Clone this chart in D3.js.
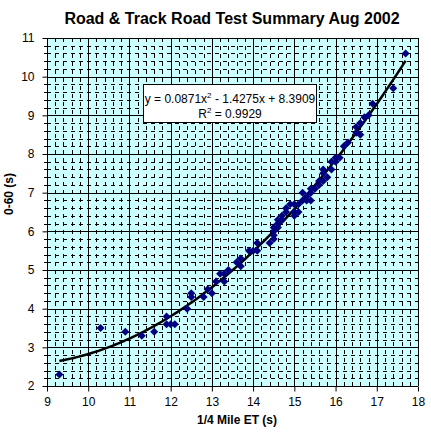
<!DOCTYPE html>
<html>
<head>
<meta charset="utf-8">
<script src="https://cdn.jsdelivr.net/npm/d3@7"></script>
<style>
  body { margin: 0; background: #fff; }
  text { font-family: Arial, "Liberation Sans", sans-serif; }
</style>
</head>
<body>
<script>
// road test data: quarter mile ET vs 0-60 time
var etTimes = [9.3, 10.3, 10.9, 11.3, 11.6, 11.9, 11.9, 12.0, 12.1, 12.4, 12.5, 12.5, 12.8, 12.9, 13.0,
    13.1, 13.2, 13.3, 13.3, 13.4, 13.6, 13.7, 13.7, 13.9, 14.0, 14.1, 14.1, 14.4, 14.5, 14.5,
    14.5, 14.5, 14.6, 14.6, 14.6, 14.7, 14.7, 14.8, 14.8, 14.9, 15.0, 15.0, 15.0, 15.1, 15.1,
    15.2, 15.2, 15.3, 15.3, 15.4, 15.4, 15.4, 15.5, 15.6, 15.6, 15.7, 15.7, 15.7, 15.8, 15.9,
    15.9, 16.0, 16.0, 16.1, 16.2, 16.3, 16.5, 16.5, 16.6, 16.6, 16.7, 16.8, 16.9, 17.4, 17.7];
var zeroSixty = [2.3, 3.5, 3.4, 3.3, 3.4, 3.8, 3.6, 3.6, 3.6, 4.0, 4.3, 4.4, 4.3, 4.5, 4.4,
    4.7, 4.9, 4.9, 4.7, 5.0, 5.2, 5.3, 5.1, 5.5, 5.5, 5.7, 5.5, 5.7, 5.8, 5.9,
    6.0, 6.1, 6.1, 6.2, 6.3, 6.3, 6.4, 6.5, 6.6, 6.7, 6.7, 6.4, 6.5, 6.5, 6.7,
    6.8, 7.0, 6.9, 6.8, 6.8, 7.0, 7.1, 7.1, 7.2, 7.3, 7.3, 7.5, 7.6, 7.4, 7.6,
    7.8, 7.9, 7.8, 7.9, 8.2, 8.3, 8.7, 8.55, 8.8, 8.5, 8.95, 9.0, 9.3, 9.7, 10.6];

// polynomial trendline printed on the chart
var trendCoef = [0.0871, -1.4275, 8.3909];
var trendRange = [9.3, 17.7];

var xTicks = [9, 10, 11, 12, 13, 14, 15, 16, 17, 18];
var yTicks = [2, 3, 4, 5, 6, 7, 8, 9, 10, 11];

var w = 431, h = 437;
var svg = d3.select("body").append("svg")
    .attr("width", w)
    .attr("height", h);

var x = d3.scaleLinear().domain([9, 18]).range([47, 418]);
var y = d3.scaleLinear().domain([2, 11]).range([386, 38]);

// plot background
svg.append("rect")
    .attr("x", x(9)).attr("y", y(11))
    .attr("width", x(18) - x(9)).attr("height", y(2) - y(11))
    .style("fill", "#CCFFFF");

// minor gridlines every 0.2
var xMinor = d3.range(9.2, 18, 0.2).filter(function(d){ return Math.abs(d - Math.round(d)) > 0.01; });
var yMinor = d3.range(2.2, 11, 0.2).filter(function(d){ return Math.abs(d - Math.round(d)) > 0.01; });

var grid = svg.append("g").attr("class", "grid").attr("shape-rendering", "crispEdges");
grid.selectAll(".vminor").data(xMinor).enter().append("line")
    .attr("x1", function(d){ return Math.round(x(d)) + 0.5; })
    .attr("x2", function(d){ return Math.round(x(d)) + 0.5; })
    .attr("y1", y(11)).attr("y2", y(2))
    .style("stroke", "#000").style("stroke-dasharray", "4,4");
grid.selectAll(".hminor").data(yMinor).enter().append("line")
    .attr("y1", function(d){ return Math.round(y(d)) + 0.5; })
    .attr("y2", function(d){ return Math.round(y(d)) + 0.5; })
    .attr("x1", x(9)).attr("x2", x(18))
    .style("stroke", "#000").style("stroke-dasharray", "4,4");

// major gridlines
grid.selectAll(".vmajor").data(xTicks).enter().append("line")
    .attr("x1", function(d){ return Math.round(x(d)) + 0.5; })
    .attr("x2", function(d){ return Math.round(x(d)) + 0.5; })
    .attr("y1", y(11)).attr("y2", y(2))
    .style("stroke", "#000");
grid.selectAll(".hmajor").data(yTicks).enter().append("line")
    .attr("y1", function(d){ return Math.round(y(d)) + 0.5; })
    .attr("y2", function(d){ return Math.round(y(d)) + 0.5; })
    .attr("x1", x(9)).attr("x2", x(18))
    .style("stroke", "#000");

// axes
var xAxis = svg.append("g")
    .attr("transform", "translate(0," + (Math.round(y(2)) + 0.5) + ")")
    .call(d3.axisBottom(x).tickValues(xTicks).tickSize(5).tickPadding(6).tickFormat(d3.format("d")));
var yAxis = svg.append("g")
    .attr("transform", "translate(" + (Math.round(x(9)) + 0.5) + ",0)")
    .call(d3.axisLeft(y).tickValues(yTicks).tickSize(5).tickPadding(8).tickFormat(d3.format("d")));

[xAxis, yAxis].forEach(function(a){
    a.selectAll("text").style("font-size", "12px").style("fill", "#000");
    a.selectAll("line, path").style("stroke", "#000");
    a.select(".domain").remove();
});

// minor ticks crossing the y axis
svg.append("g").selectAll("line").data(yMinor).enter().append("line")
    .attr("x1", x(9) - 3).attr("x2", x(9) + 3)
    .attr("y1", function(d){ return Math.round(y(d)) + 0.5; })
    .attr("y2", function(d){ return Math.round(y(d)) + 0.5; })
    .style("stroke", "#000");

// trendline
var trendPts = d3.range(trendRange[0], trendRange[1] + 0.001, 0.05).map(function(t){
    return [t, trendCoef[0] * t * t + trendCoef[1] * t + trendCoef[2]];
});
svg.append("path")
    .datum(trendPts)
    .attr("d", d3.line().x(function(d){ return x(d[0]); }).y(function(d){ return y(d[1]); }))
    .style("fill", "none")
    .style("stroke", "#000")
    .style("stroke-width", 2.5);

// markers
svg.append("g").selectAll("path").data(etTimes).enter().append("path")
    .attr("transform", function(d, i){ return "translate(" + x(d) + "," + y(zeroSixty[i]) + ")"; })
    .attr("d", "M0,-4L4,0L0,4L-4,0Z")
    .style("fill", "#000080");

// equation box
var box = svg.append("g");
box.append("rect")
    .attr("x", 143.5).attr("y", 84.5)
    .attr("width", 173).attr("height", 38)
    .style("fill", "#fff").style("stroke", "#000");
var eq = box.append("text")
    .attr("x", 230).attr("y", 103)
    .attr("text-anchor", "middle")
    .style("font-size", "12px");
eq.append("tspan").text("y = 0.0871x");
eq.append("tspan").attr("dy", -5).style("font-size", "8px").text("2");
eq.append("tspan").attr("dy", 5).text(" - 1.4275x + 8.3909");
var r2 = box.append("text")
    .attr("x", 230).attr("y", 118)
    .attr("text-anchor", "middle")
    .style("font-size", "12px");
r2.append("tspan").text("R");
r2.append("tspan").attr("dy", -5).style("font-size", "8px").text("2");
r2.append("tspan").attr("dy", 5).text(" = 0.9929");

// title and axis labels
svg.append("text")
    .attr("x", 232).attr("y", 24)
    .attr("text-anchor", "middle")
    .style("font-size", "16px").style("font-weight", "bold")
    .text("Road & Track Road Test Summary Aug 2002");
svg.append("text")
    .attr("x", 237).attr("y", 424)
    .attr("text-anchor", "middle")
    .style("font-size", "12px").style("font-weight", "bold")
    .text("1/4 Mile ET (s)");
svg.append("text")
    .attr("transform", "translate(13,194) rotate(-90)")
    .attr("text-anchor", "middle")
    .style("font-size", "12px").style("font-weight", "bold")
    .text("0-60 (s)");
</script>
</body>
</html>
